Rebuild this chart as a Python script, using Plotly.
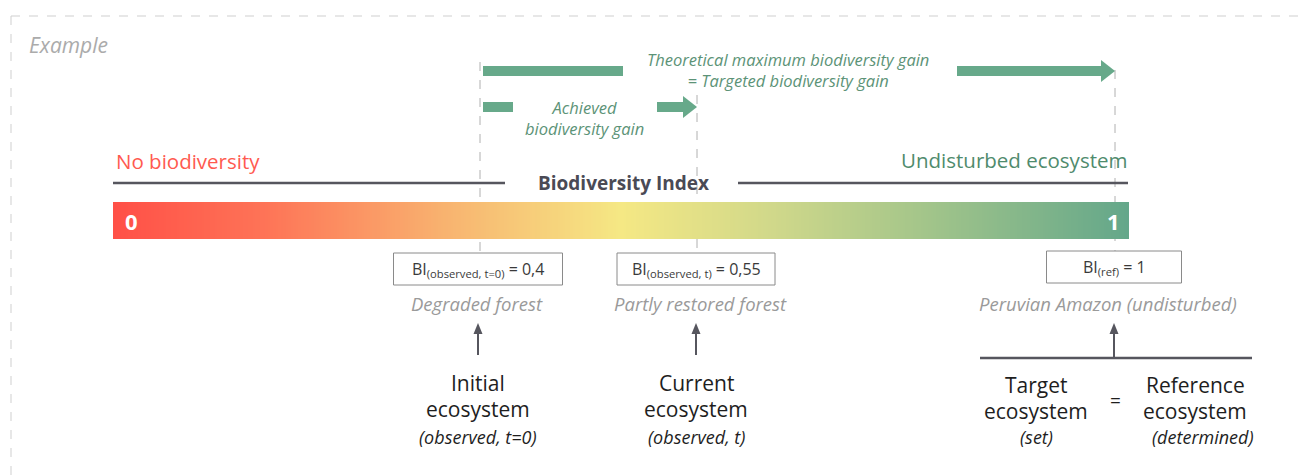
import numpy as np
import plotly.graph_objects as go

# ---------------- data ----------------
INDEX_MIN = 0
INDEX_MAX = 1
INDEX_VALUES = [0.4, 0.55, 1.0]
BOX_LABELS = ["BI<sub>(observed, t=0)</sub> = 0,4",
              "BI<sub>(observed, t)</sub> = 0,55",
              "BI<sub>(ref)</sub> = 1"]
SITE_LABELS = ["Degraded forest", "Partly restored forest", "Peruvian Amazon (undisturbed)"]
ECO_TITLES = [["Initial", "ecosystem"], ["Current", "ecosystem"]]
ECO_NOTES = ["(observed, t=0)", "(observed, t)"]
GAIN_LABELS = ["Achieved<br>biodiversity gain",
               "Theoretical maximum biodiversity gain<br>= Targeted biodiversity gain"]
GAIN_FROM = [0.4, 0.4]
GAIN_TO = [0.55, 1.0]
GRADIENT_STOPS = [0.0, 0.15, 0.33, 0.5, 0.65, 0.8, 1.0]
GRADIENT_COLORS = ["#FF5047", "#FE7457", "#F8B470", "#F5E884", "#D0D88A", "#A3C58A", "#64A78A"]

# ---------------- layout constants (pixels of the page) ----------------
W, H = 1307, 475
PAGE_OFF = 8                      # default body margin of the html page
BAR_X0, BAR_X1 = 113, 1129
BAR_Y0, BAR_Y1 = 202, 239
MARKER_X = [480, 697, 1115]       # schematic (not to scale) marker positions
BOX_W = [169, 158, 135]
GREEN = "#67A98A"
DARK = "#56565E"
FONT = "Open Sans"

fig = go.Figure()

# gradient bar built from the index scale
n = 400
vals = np.linspace(INDEX_MIN, INDEX_MAX, n)
dx = (BAR_X1 - BAR_X0) / n
colorscale = [[s, c] for s, c in zip(GRADIENT_STOPS, GRADIENT_COLORS)]
fig.add_trace(go.Heatmap(z=[vals.tolist()], x0=BAR_X0 + dx / 2, dx=dx,
                         y0=(BAR_Y0 + BAR_Y1) / 2, dy=BAR_Y1 - BAR_Y0,
                         colorscale=colorscale, zmin=INDEX_MIN, zmax=INDEX_MAX,
                         showscale=False, hoverinfo="skip"))

shapes = []
annotations = []

def text(x, y, t, size=16, color="#222", italic=False, bold=False, xanchor="center"):
    annotations.append(dict(x=x, y=y, xref="x", yref="y", text=t, showarrow=False,
                            xanchor=xanchor, yanchor="middle",
                            font=dict(family=FONT, size=size, color=color,
                                      style="italic" if italic else "normal",
                                      weight="bold" if bold else "normal")))

def lines_text(x, y0, rows, step, **kw):
    for i, r in enumerate(rows):
        text(x, y0 + i * step, r, **kw)

def line(x0, y0, x1, y1, color, width, dash="solid", layer="above"):
    shapes.append(dict(type="line", x0=x0, y0=y0, x1=x1, y1=y1, xref="x", yref="y",
                       line=dict(color=color, width=width, dash=dash), layer=layer))

def poly(xs, ys, color):
    fig.add_trace(go.Scatter(x=xs + [xs[0]], y=ys + [ys[0]], mode="lines", fill="toself",
                             fillcolor=color, line=dict(color=color, width=0),
                             hoverinfo="skip", showlegend=False))

# dashed frame
line(11, 16, W + 5, 16, "#CFCFCF", 1, "dash")
line(11, 16, 11, H + 5, "#CFCFCF", 1, "dash")
text(27, 45, "Example", 21, "#ABABAB", italic=True, xanchor="left")

# dashed guides for each marker
guide_tops = [62, 95, 70]
for x, yt in zip(MARKER_X, guide_tops):
    line(x, yt, x, 253, "#B0B0B0", 1, "dash", layer="below")

# scale heading
line(BAR_X0, 183, 505, 183, DARK, 2.5)
line(738, 183, BAR_X1 - 1, 183, DARK, 2.5)
text(623, 183, "Biodiversity Index", 19, "#4A4A55", bold=True)
text(114, 161, "No biodiversity", 20.5, "#FF5A50", xanchor="left")
text(1129, 160, "Undisturbed ecosystem", 20.5, "#4F8B6D", xanchor="right")
text(BAR_X0 + 18, 221, str(INDEX_MIN), 22, "white", bold=True)
text(BAR_X1 - 16, 221, str(INDEX_MAX), 22, "white", bold=True)

# value boxes and site labels
box_tops = [253, 253, 251]
box_cx = [478, 696, 1114]
for cx, bw, bt, lab in zip(box_cx, BOX_W, box_tops, BOX_LABELS):
    shapes.append(dict(type="rect", x0=cx - bw / 2, x1=cx + bw / 2, y0=bt, y1=bt + 32,
                       xref="x", yref="y", line=dict(color="#8A8A8A", width=1),
                       fillcolor="white", layer="above"))
    text(cx, bt + 16, lab, 16, "#3A3A3A")
site_cx = [477, 700, 1108]
for cx, site in zip(site_cx, SITE_LABELS):
    text(cx, 303, site, 18.5, "#9A9A9A", italic=True)

# up arrows
arrow_bottoms = [355, 355, 359]
for x, yb in zip(box_cx, arrow_bottoms):
    line(x, yb, x, 331, DARK, 2)
    poly([x, x - 4.5, x + 4.5], [323, 334, 334], DARK)
line(980, 358, 1252, 358, DARK, 2.5)

# ecosystem descriptions
for cx, rows, note in zip(box_cx[:2], ECO_TITLES, ECO_NOTES):
    lines_text(cx, 383, rows, 26, size=21, color="#1E1E1E")
    text(cx, 437, note, 18, "#1E1E1E", italic=True)
lines_text(1036, 385, ["Target", "ecosystem"], 26, size=21, color="#1E1E1E")
text(1036, 437, "(set)", 18, "#1E1E1E", italic=True)
text(1115, 400, "=", 19, "#1E1E1E")
lines_text(1195, 385, ["Reference", "ecosystem"], 26, size=21, color="#1E1E1E")
text(1203, 437, "(determined)", 18, "#1E1E1E", italic=True)

# green gain arrows (from index GAIN_FROM to GAIN_TO, drawn at schematic positions)
pos = dict(zip(INDEX_VALUES, MARKER_X))
gain_y = [107, 71]
gain_gap = [(513, 657), (623, 957)]
gain_text_x = [584, 788]
gain_text_y = [118, 70]
for lab, f, t, y, (g0, g1), tx, ty in zip(GAIN_LABELS, GAIN_FROM, GAIN_TO, gain_y,
                                           gain_gap, gain_text_x, gain_text_y):
    xs, xe = pos[f] + 3, pos[t]
    head = 14
    shapes.append(dict(type="rect", x0=xs, x1=g0, y0=y - 5, y1=y + 5, xref="x", yref="y",
                       line=dict(width=0), fillcolor=GREEN, layer="above"))
    shapes.append(dict(type="rect", x0=g1, x1=xe - head, y0=y - 5, y1=y + 5, xref="x", yref="y",
                       line=dict(width=0), fillcolor=GREEN, layer="above"))
    poly([xe - head, xe, xe - head], [y - 11, y, y + 11], GREEN)
    text(tx, ty, lab, 16.5, "#5C9377", italic=True)

fig.update_layout(
    width=W - PAGE_OFF, height=H - PAGE_OFF, margin=dict(l=0, r=0, t=0, b=0),
    paper_bgcolor="white", plot_bgcolor="white",
    xaxis=dict(range=[PAGE_OFF, W], visible=False, fixedrange=True),
    yaxis=dict(range=[H, PAGE_OFF], visible=False, fixedrange=True),
    shapes=shapes, annotations=annotations, showlegend=False,
)
fig.write_html("out.html", config={"displayModeBar": False})
